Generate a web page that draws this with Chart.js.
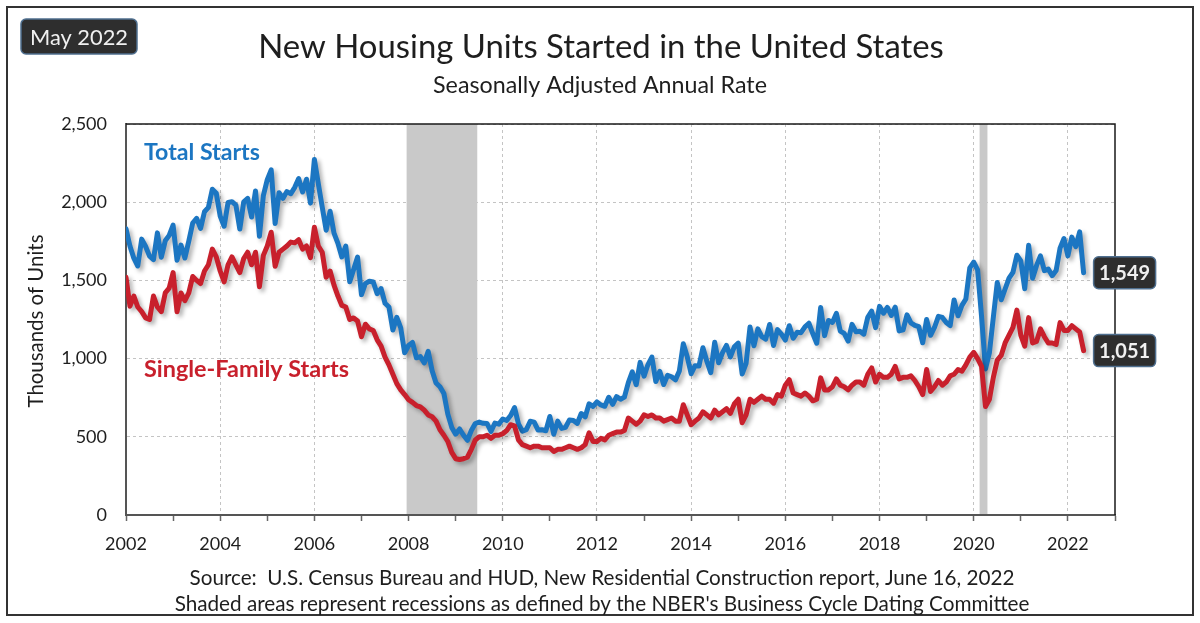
<!DOCTYPE html>
<html>
<head>
<meta charset="utf-8">
<script src="https://cdn.jsdelivr.net/npm/chart.js@4.4.1/dist/chart.umd.min.js"></script>
<style>
  html, body { margin: 0; padding: 0; background: #fff; }
</style>
</head>
<body>
<canvas id="housingChart" width="1200" height="623"></canvas>
<script>
// monthly, seasonally adjusted annual rate, thousands of units (Jan 2002 - May 2022)
const startYear = 2002;
const totalStarts = [
  1830, 1720, 1642, 1592, 1764, 1717, 1655, 1633, 1804, 1648, 1753, 1788, // 2002
  1853, 1629, 1726, 1643, 1751, 1867, 1897, 1833, 1939, 1967, 2083, 2057, // 2003
  1911, 1846, 1998, 2003, 1981, 1828, 2002, 2024, 1905, 2072, 1782, 2042, // 2004
  2144, 2207, 1864, 2061, 2025, 2068, 2054, 2095, 2151, 2065, 2147, 1994, // 2005
  2273, 2119, 1969, 1821, 1942, 1802, 1737, 1650, 1720, 1491, 1570, 1649, // 2006
  1409, 1480, 1495, 1490, 1415, 1448, 1354, 1330, 1183, 1264, 1197, 1037, // 2007
  1084, 1103, 1005, 1013, 973, 1046, 923, 844, 820, 777, 645, 560,         // 2008
  517, 550, 510, 478, 540, 585, 594, 586, 585, 534, 588, 581,              // 2009
  614, 604, 636, 687, 583, 536, 546, 599, 594, 543, 545, 539,              // 2010
  630, 517, 600, 554, 561, 608, 604, 586, 649, 627, 711, 694,              // 2011
  723, 704, 695, 753, 708, 757, 740, 754, 847, 915, 833, 976,              // 2012
  888, 962, 1010, 853, 919, 834, 893, 884, 864, 921, 1095, 1012,           // 2013
  903, 955, 953, 1069, 983, 910, 1104, 973, 1038, 1084, 1011, 1075,        // 2014
  1099, 902, 970, 1202, 1082, 1190, 1141, 1125, 1218, 1084, 1185, 1156,    // 2015
  1119, 1210, 1130, 1168, 1166, 1203, 1226, 1160, 1098, 1327, 1147, 1244,  // 2016
  1231, 1289, 1176, 1161, 1112, 1219, 1172, 1175, 1156, 1264, 1303, 1198,  // 2017
  1334, 1290, 1327, 1276, 1329, 1177, 1184, 1280, 1229, 1213, 1204, 1101,  // 2018
  1250, 1149, 1199, 1270, 1263, 1231, 1211, 1375, 1274, 1340, 1381, 1580,  // 2019
  1617, 1567, 1269, 934, 1038, 1265, 1487, 1376, 1445, 1514, 1551, 1661,   // 2020
  1625, 1447, 1725, 1514, 1594, 1657, 1562, 1573, 1530, 1563, 1706, 1768,  // 2021
  1657, 1777, 1716, 1810, 1549                                             // 2022
];
const singleFamilyStarts = [
  1520, 1335, 1400, 1330, 1300, 1260, 1250, 1400, 1330, 1300, 1420, 1450,  // 2002
  1550, 1300, 1420, 1370, 1420, 1525, 1500, 1480, 1560, 1600, 1700, 1650,  // 2003
  1560, 1490, 1600, 1650, 1600, 1550, 1640, 1680, 1600, 1680, 1460, 1660,  // 2004
  1720, 1808, 1590, 1680, 1700, 1720, 1745, 1740, 1760, 1700, 1720, 1645,  // 2005
  1840, 1720, 1680, 1520, 1560, 1470, 1400, 1340, 1330, 1250, 1260, 1240,  // 2006
  1140, 1220, 1190, 1180, 1120, 1080, 1010, 960, 900, 840, 800, 770,       // 2007
  737, 720, 700, 692, 670, 640, 628, 600, 545, 510, 470, 400,              // 2008
  360, 355, 360, 370, 420, 480, 500, 500, 510, 490, 510, 510,              // 2009
  520, 540, 577, 570, 480, 450, 440, 430, 440, 440, 430, 430,              // 2010
  430, 406, 420, 420, 430, 440, 430, 420, 430, 450, 525, 470,              // 2011
  470, 490, 480, 510, 520, 530, 530, 540, 620, 600, 580, 600,              // 2012
  640, 630, 640, 620, 620, 600, 610, 620, 600, 600, 705, 640,              // 2013
  577, 600, 620, 660, 640, 620, 670, 640, 660, 680, 650, 710,              // 2014
  740, 590, 640, 740, 720, 740, 760, 740, 740, 715, 770, 760,              // 2015
  830, 865, 780, 770, 760, 780, 760, 730, 740, 877, 800, 800,              // 2016
  820, 870, 830, 820, 800, 830, 850, 850, 830, 900, 940, 850,              // 2017
  900, 880, 880, 900, 950, 870, 880, 880, 890, 860, 820, 770,              // 2018
  930, 790, 820, 860, 830, 850, 890, 900, 930, 920, 960, 1010,             // 2019
  1040, 1000, 950, 694, 740, 880, 990, 1020, 1100, 1150, 1200, 1310,       // 2020
  1150, 1080, 1262, 1100, 1110, 1190, 1140, 1100, 1100, 1090, 1230, 1180,  // 2021
  1180, 1210, 1190, 1170, 1051                                            // 2022
];
// NBER recessions (peak month mid to trough month mid)
const recessions = [
  [2007 + 11.5 / 12, 2009 + 5.5 / 12],
  [2020 + 1.5 / 12, 2020 + 3.5 / 12]
];
const seriesNames = ['Total Starts', 'Single-Family Starts'];
const seriesColors = ['#1c76c2', '#c8202c'];

const FONT = 'Lato, "Open Sans", sans-serif';

const toPoints = arr => arr.map((v, i) => ({ x: startYear + i / 12, y: v }));

function fitSize(ctx, text, weight, width) {
  ctx.font = weight + ' 100px ' + FONT;
  return 100 * width / ctx.measureText(text).width;
}

function fitText(ctx, text, weight, width, x, y, align, color) {
  const size = fitSize(ctx, text, weight, width);
  ctx.font = weight + ' ' + size.toFixed(2) + 'px ' + FONT;
  ctx.fillStyle = color;
  ctx.textAlign = align;
  ctx.textBaseline = 'middle';
  ctx.fillText(text, x, y);
}

function badge(ctx, x, y, w, h, text, textW, weight) {
  ctx.beginPath();
  if (ctx.roundRect) ctx.roundRect(x, y, w, h, 5); else ctx.rect(x, y, w, h);
  ctx.fillStyle = '#2e2e2e';
  ctx.fill();
  ctx.lineWidth = 1.5;
  ctx.strokeStyle = '#4f6f8f';
  ctx.stroke();
  fitText(ctx, text, weight, textW, x + w / 2, y + h / 2 + 1, 'center', '#f0f0f0');
}

const decorations = {
  id: 'decorations',
  beforeDatasetsDraw(chart) {
    const { ctx, chartArea, scales: { x } } = chart;
    ctx.save();
    ctx.fillStyle = '#c9c9c9';
    recessions.forEach(([a, b]) => {
      const x0 = x.getPixelForValue(a), x1 = x.getPixelForValue(b);
      ctx.fillRect(x0, chartArea.top, x1 - x0, chartArea.bottom - chartArea.top - 1);
    });
    ctx.restore();
  },
  beforeDatasetDraw(chart) {
    const ctx = chart.ctx;
    ctx.save();
    ctx.shadowColor = 'rgba(0,0,0,0.3)';
    ctx.shadowBlur = 4;
    ctx.shadowOffsetX = 3;
    ctx.shadowOffsetY = 3;
  },
  afterDatasetDraw(chart) {
    chart.ctx.restore();
  },
  afterDraw(chart) {
    const { ctx, chartArea, scales: { x, y } } = chart;
    ctx.save();

    // plot frame (top and right)
    ctx.strokeStyle = '#1a1a1a';
    ctx.lineWidth = 1.5;
    ctx.beginPath();
    ctx.moveTo(chartArea.left, chartArea.top);
    ctx.lineTo(chartArea.right, chartArea.top);
    ctx.lineTo(chartArea.right, chartArea.bottom);
    ctx.stroke();

    // outer border
    ctx.strokeStyle = '#333';
    ctx.lineWidth = 2;
    ctx.strokeRect(7, 7, 1186, 608);

    // titles
    fitText(ctx, 'New Housing Units Started in the United States', 'normal', 686, 601, 47, 'center', '#1e1e1e');
    fitText(ctx, 'Seasonally Adjusted Annual Rate', 'normal', 334, 600, 85, 'center', '#1e1e1e');

    // date badge
    badge(ctx, 21, 19, 116, 35, 'May 2022', 98, 'normal');

    // series labels
    fitText(ctx, seriesNames[0], 'bold', 116, 144, 153, 'left', seriesColors[0]);
    fitText(ctx, seriesNames[1], 'bold', 205, 144, 369, 'left', seriesColors[1]);

    // y-axis title
    ctx.save();
    ctx.translate(36, 321);
    ctx.rotate(-Math.PI / 2);
    fitText(ctx, 'Thousands of Units', 'normal', 173, 0, 0, 'center', '#1e1e1e');
    ctx.restore();

    // last-value badges
    [totalStarts, singleFamilyStarts].forEach(arr => {
      const last = arr[arr.length - 1];
      const px = x.getPixelForValue(startYear + (arr.length - 1) / 12);
      const py = y.getPixelForValue(last);
      badge(ctx, px + 10, py - 16, 62, 32, last.toLocaleString('en-US'), 51, 'bold');
    });

    // source notes
    fitText(ctx, 'Source:  U.S. Census Bureau and HUD, New Residential Construction report, June 16, 2022', 'normal', 825, 602, 578, 'center', '#1e1e1e');
    fitText(ctx, "Shaded areas represent recessions as defined by the NBER's Business Cycle Dating Committee", 'normal', 855, 602, 604, 'center', '#1e1e1e');

    ctx.restore();
  }
};

const ctx = document.getElementById('housingChart');
const housingChart = new Chart(ctx, {
  type: 'line',
  data: {
    datasets: [{
      label: seriesNames[1],
      data: toPoints(singleFamilyStarts),
      borderColor: seriesColors[1],
      backgroundColor: seriesColors[1]
    }, {
      label: seriesNames[0],
      data: toPoints(totalStarts),
      borderColor: seriesColors[0],
      backgroundColor: seriesColors[0]
    }]
  },
  options: {
    responsive: false,
    animation: false,
    devicePixelRatio: 1,
    layout: { padding: { top: 124, right: 85, left: 0, bottom: 0 } },
    plugins: {
      legend: { display: false },
      tooltip: { enabled: false },
      title: { display: false }
    },
    elements: {
      point: { radius: 0 },
      line: { tension: 0, borderWidth: 5, borderJoinStyle: 'round', borderCapStyle: 'round' }
    },
    scales: {
      x: {
        type: 'linear',
        min: 2002,
        max: 2023,
        afterFit: s => { s.height = 108; },
        ticks: {
          stepSize: 1,
          autoSkip: false,
          maxRotation: 0,
          padding: 12,
          color: '#1e1e1e',
          font: { family: FONT, size: 18 },
          callback: v => (v % 2 === 0 && v < 2023) ? String(v) : ''
        },
        grid: {
          color: c => (c.tick && c.tick.value % 2 === 0 && c.tick.value > 2002) ? '#c4c4c4' : 'rgba(0,0,0,0)',
          lineWidth: 1,
          tickLength: 6,
          tickColor: '#666',
          tickWidth: 1.5
        },
        border: { color: '#555', width: 2, dash: [3, 3] }
      },
      y: {
        min: 0,
        max: 2500,
        afterFit: s => { s.width = 126; },
        ticks: {
          stepSize: 500,
          padding: 19,
          color: '#1e1e1e',
          font: { family: FONT, size: 18 },
          callback: v => v.toLocaleString('en-US')
        },
        grid: { color: '#c4c4c4', drawTicks: false },
        border: { color: '#555', width: 2, dash: [3, 3] }
      }
    }
  },
  plugins: [decorations]
});
</script>
</body>
</html>
